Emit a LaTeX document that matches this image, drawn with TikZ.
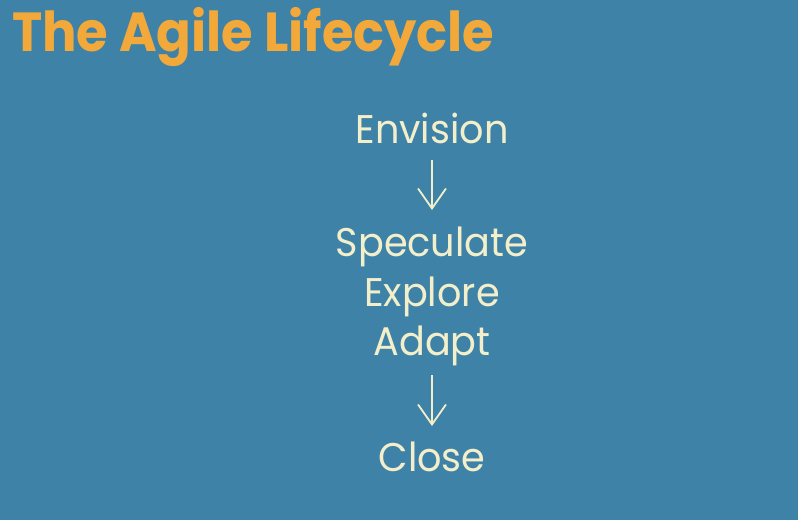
\documentclass[tikz,border=0pt]{standalone}
\usepackage{fontspec}
\setmainfont{Poppins}
\usetikzlibrary{arrows.meta}
\definecolor{bgblue}{HTML}{3F82A8}
\definecolor{titleorange}{HTML}{F2A93A}
\definecolor{cream}{HTML}{F3EFCB}
\newcommand{\narrow}[2]{\scalebox{#1}[1]{#2}}
\begin{document}
\begin{tikzpicture}[x=1pt,y=-1pt,
  stage/.style={text=cream, font=\fontsize{40}{44}\selectfont, anchor=base, inner sep=0pt},
  flow/.style={draw=cream, line width=1.8pt, -{Straight Barb[length=20pt,width=28pt,line width=1.8pt]}}]
  \fill[bgblue] (0,0) rectangle (798,520);
  \useasboundingbox (0,0) rectangle (798,520);
  \node[anchor=base west, inner sep=0pt, text=titleorange,
        font=\fontsize{55}{60}\selectfont\bfseries] (title) at (12,51) {\narrow{0.93}{The Agile Lifecycle}};
  \node[stage] (envision) at (432,143) {\narrow{0.955}{Envision}};
  \node[stage] (speculate) at (432,256) {\narrow{0.955}{Speculate}};
  \node[stage] (explore) at (432,306) {\narrow{0.955}{Explore}};
  \node[stage] (adapt) at (432,355) {\narrow{0.955}{Adapt}};
  \node[stage] (close) at (432,471) {\narrow{0.955}{Close}};
  \draw[flow] ([yshift=-17pt]envision.base) -- ([yshift=46pt]speculate.base);
  \draw[flow] ([yshift=-20pt]adapt.base) -- ([yshift=45pt]close.base);
\end{tikzpicture}
\end{document}
